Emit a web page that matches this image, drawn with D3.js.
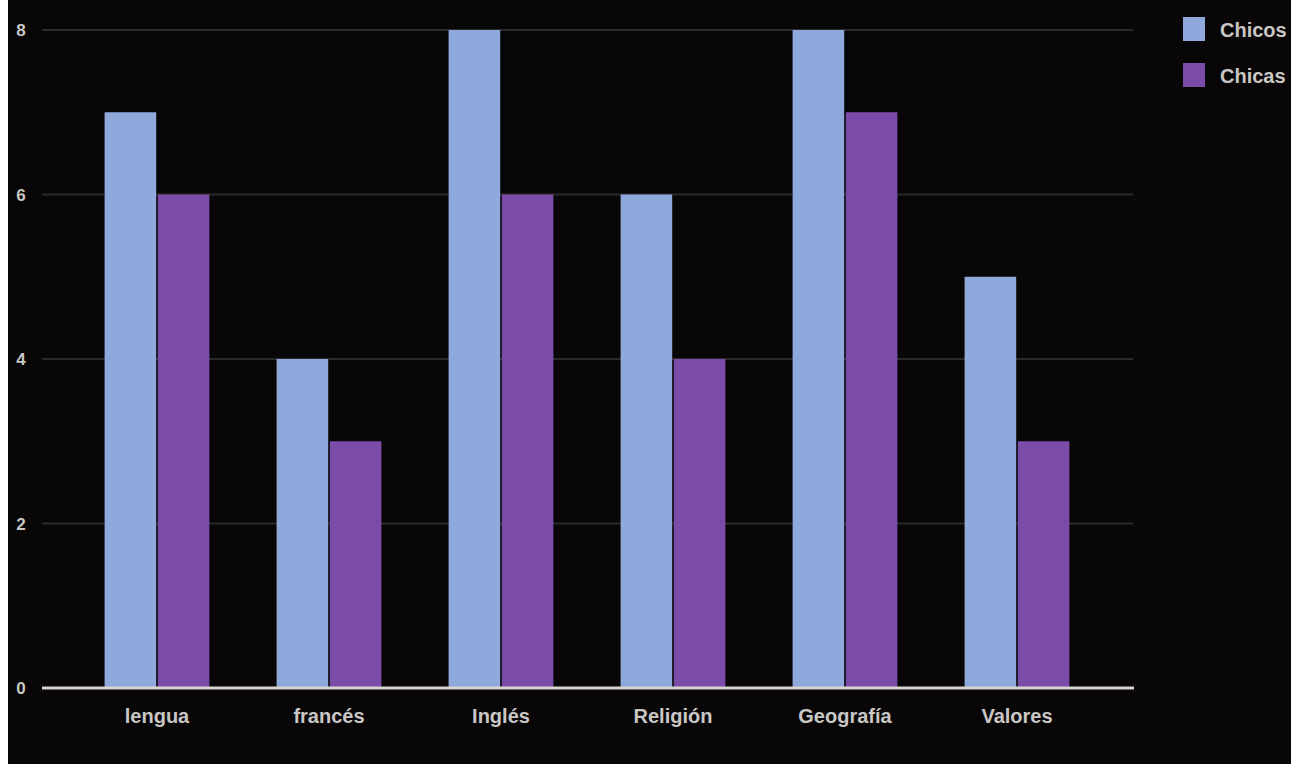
<!DOCTYPE html>
<html>
<head>
<meta charset="utf-8">
<script src="https://cdn.jsdelivr.net/npm/d3@7"></script>
<style>
  html, body { margin: 0; padding: 0; background: #fff; }
  svg { display: block; }
</style>
</head>
<body>
<svg id="chart" width="1291" height="764"></svg>
<script>
// Subjects on the x axis
const categories = ["lengua", "francés", "Inglés", "Religión", "Geografía", "Valores"];
// Series names and their values per subject
const seriesNames = ["Chicos", "Chicas"];
const chicos = [7, 4, 8, 6, 8, 5];
const chicas = [6, 3, 6, 4, 7, 3];
// Y tick values
const yTicks = [0, 2, 4, 6, 8];

const colors = { Chicos: "#8fa9dd", Chicas: "#7b4ba8" };
const font = "Liberation Sans, Arial, sans-serif";
const textColor = "#c9c7c5";

const svg = d3.select("#chart");
const W = 1291, H = 764;

// dark panel with a thin light strip on the left edge
svg.append("rect").attr("x", 0).attr("y", 0).attr("width", W).attr("height", H).attr("fill", "#fff");
svg.append("rect").attr("x", 8).attr("y", 0).attr("width", W - 8).attr("height", H).attr("fill", "#080606");

const y = d3.scaleLinear().domain([0, 8]).range([688, 30]);
const x0 = d3.scaleBand().domain(categories).range([71, 1103]).padding(0);
const x1 = d3.scaleBand().domain(seriesNames).range([32, 140]).padding(0.03);

const rows = categories.map((c, i) => ({ cat: c, Chicos: chicos[i], Chicas: chicas[i] }));

// gridlines
svg.append("g").selectAll("line")
  .data(yTicks.filter(t => t > 0))
  .join("line")
  .attr("x1", 42).attr("x2", 1133)
  .attr("y1", d => y(d)).attr("y2", d => y(d))
  .attr("stroke", "#2b2a2a").attr("stroke-width", 2);

// y tick labels
svg.append("g").selectAll("text")
  .data(yTicks)
  .join("text")
  .attr("x", 21).attr("y", d => y(d) + 6)
  .attr("text-anchor", "middle")
  .attr("font-family", font)
  .attr("font-weight", "bold")
  .attr("font-size", 17)
  .attr("fill", textColor)
  .text(d => d);

// bars
const groups = svg.append("g").selectAll("g")
  .data(rows)
  .join("g")
  .attr("transform", d => `translate(${x0(d.cat)},0)`);

groups.selectAll("rect")
  .data(d => seriesNames.map(s => ({ s, v: d[s] })))
  .join("rect")
  .attr("x", d => x1(d.s))
  .attr("width", x1.bandwidth())
  .attr("y", d => y(d.v))
  .attr("height", d => y(0) - y(d.v))
  .attr("fill", d => colors[d.s]);

// baseline
svg.append("line")
  .attr("x1", 42).attr("x2", 1134)
  .attr("y1", y(0)).attr("y2", y(0))
  .attr("stroke", "#d8d4cf").attr("stroke-width", 3);

// x labels
svg.append("g").selectAll("text")
  .data(categories)
  .join("text")
  .attr("x", d => x0(d) + x0.bandwidth() / 2)
  .attr("y", 723)
  .attr("text-anchor", "middle")
  .attr("font-family", font)
  .attr("font-weight", "bold")
  .attr("font-size", 20)
  .attr("fill", textColor)
  .text(d => d);

// legend
const legend = svg.append("g").selectAll("g")
  .data(seriesNames)
  .join("g")
  .attr("transform", (d, i) => `translate(1183, ${17 + i * 46})`);

legend.append("rect")
  .attr("width", 22).attr("height", 24)
  .attr("fill", d => colors[d]);

legend.append("text")
  .attr("x", 37).attr("y", 20)
  .attr("font-family", font)
  .attr("font-weight", "bold")
  .attr("font-size", 20)
  .attr("fill", textColor)
  .text(d => d);
</script>
</body>
</html>
